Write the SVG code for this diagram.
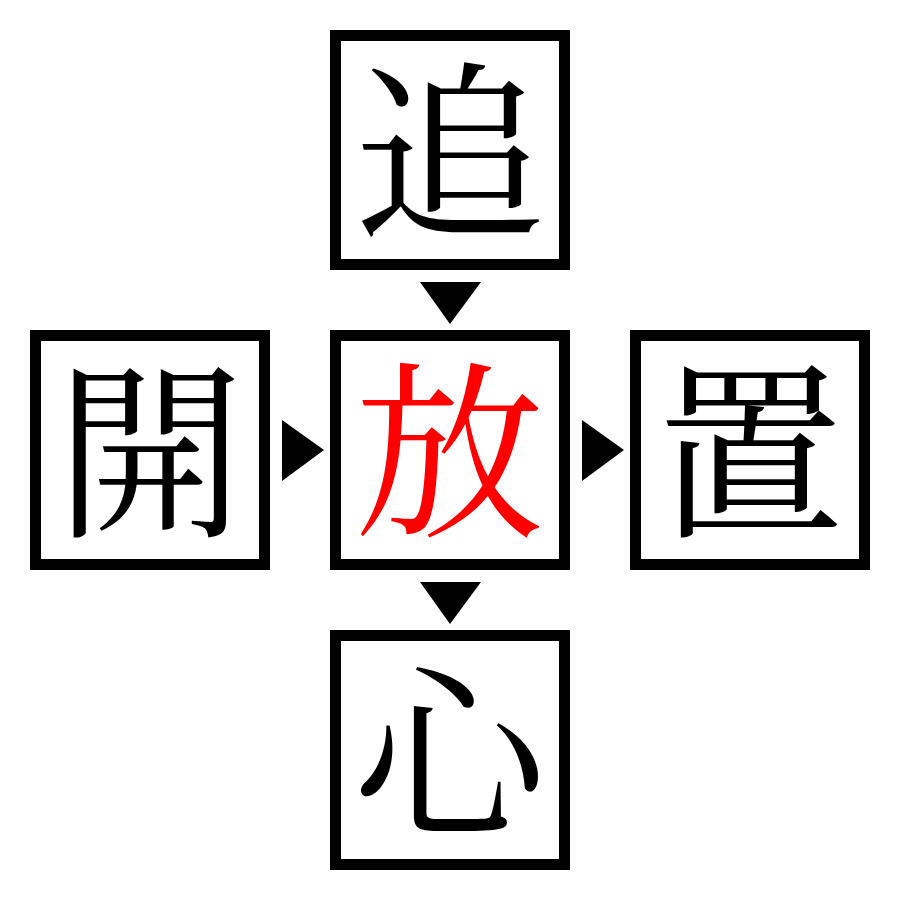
<svg xmlns="http://www.w3.org/2000/svg" width="900" height="900" viewBox="0 0 900 900">
<style>
.box{fill:#fff;stroke:#000;stroke-width:11}
.ch{font-family:"Noto Serif CJK JP","Noto Sans CJK JP",serif;font-size:190px;text-anchor:middle;fill:#000}
.hl{fill:#ff0000}
.arr{fill:#000}
</style>
<rect width="900" height="900" fill="#fff"/>
<g id="node-top"><rect class="box" x="335.5" y="35.5" width="229" height="229"/><text class="ch" x="450" y="222">追</text></g>
<g id="node-left"><rect class="box" x="35.5" y="335.5" width="229" height="229"/><text class="ch" x="150" y="522">開</text></g>
<g id="node-center"><rect class="box" x="335.5" y="335.5" width="229" height="229"/><text class="ch hl" x="450" y="522">放</text></g>
<g id="node-right"><rect class="box" x="635.5" y="335.5" width="229" height="229"/><text class="ch" x="750" y="522">置</text></g>
<g id="node-bottom"><rect class="box" x="335.5" y="635.5" width="229" height="229"/><text class="ch" x="450" y="822">心</text></g>
<g id="connectors">
<polygon class="arr" points="420,282 481,282 450,324"/>
<polygon class="arr" points="282,420 282,481 324,450"/>
<polygon class="arr" points="582,420 582,481 624,450"/>
<polygon class="arr" points="420,582 481,582 450,624"/>
</g>
</svg>
